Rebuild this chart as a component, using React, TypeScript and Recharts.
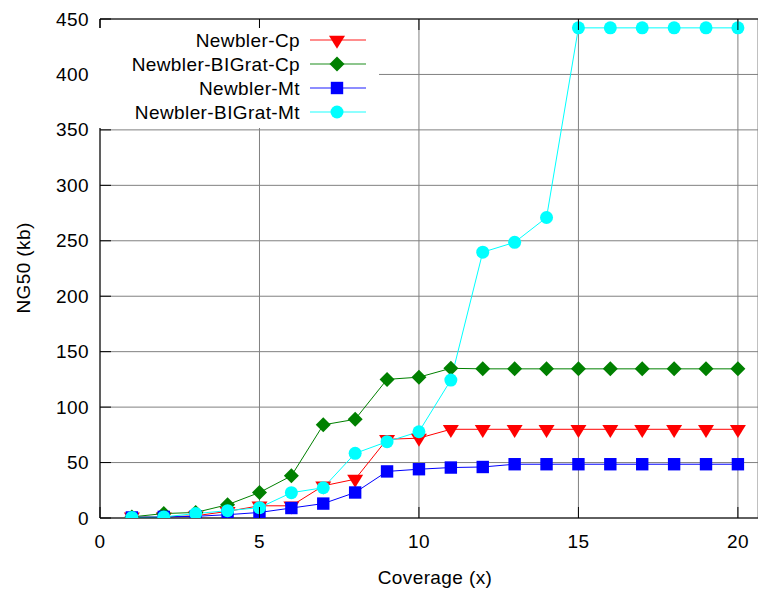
import React from 'react';
import { LineChart, Line, XAxis, YAxis, CartesianGrid, ReferenceLine, Legend, Label } from 'recharts';

const coverage = [1, 2, 3, 4, 5, 6, 7, 8, 9, 10, 11, 12, 13, 14, 15, 16, 17, 18, 19, 20];
const newblerCp = [1, 1, 2, 6, 11, 11, 29, 35, 71, 72, 80, 80, 80, 80, 80, 80, 80, 80, 80, 80];
const newblerBigratCp = [1, 4, 5, 12, 23, 38, 84, 89, 125, 127, 135, 134.5, 134.5, 134.5, 134.5, 134.5, 134.5, 134.5, 134.5, 134.5];
const newblerMt = [0.5, 1, 1.5, 3, 5, 9, 13, 23, 42, 44, 45.5, 46, 48.5, 48.5, 48.5, 48.5, 48.5, 48.5, 48.5, 48.5];
const newblerBigratMt = [0.5, 1, 4, 6.6, 9.3, 22.8, 27.3, 58.3, 68.8, 77.8, 124.4, 239.7, 248.6, 271, 442, 442, 442, 442, 442, 442];

const xTicks = [0, 5, 10, 15, 20];
const yTicks = [0, 50, 100, 150, 200, 250, 300, 350, 400, 450];

const seriesNames = ['Newbler-Cp', 'Newbler-BIGrat-Cp', 'Newbler-Mt', 'Newbler-BIGrat-Mt'];
const seriesKeys = ['cp', 'bcp', 'mt', 'bmt'];
const seriesColors = ['#ff0000', '#008000', '#0000ff', '#00ffff'];

const data = coverage.map((c, i) => ({
  x: c,
  cp: newblerCp[i],
  bcp: newblerBigratCp[i],
  mt: newblerMt[i],
  bmt: newblerBigratMt[i],
}));

const FONT = '"Liberation Sans", Arial, Helvetica, sans-serif';
const FS = 19;
const LS = 0.4;
const W = 758;
const H = 590;
const PLOT_LEFT = 100;
const PLOT_TOP = 19;
const PLOT_BOTTOM = 518;
const TICK = 11;

function Marker({ kind, cx, cy, color }: { kind: number; cx: number; cy: number; color: string }) {
  if (cx == null || cy == null || isNaN(cx) || isNaN(cy)) return null;
  if (kind === 0) {
    const s = 8, h = 13;
    const pts = `${cx - s},${cy - h / 3} ${cx + s},${cy - h / 3} ${cx},${cy + (2 * h) / 3}`;
    return <polygon points={pts} fill={color} />;
  }
  if (kind === 1) {
    const r = 7.5;
    const pts = `${cx},${cy - r} ${cx + r},${cy} ${cx},${cy + r} ${cx - r},${cy}`;
    return <polygon points={pts} fill={color} />;
  }
  if (kind === 2) {
    const s = 6.2;
    return <rect x={cx - s} y={cy - s} width={2 * s} height={2 * s} fill={color} />;
  }
  return <circle cx={cx} cy={cy} r={6.5} fill={color} />;
}

const YTick = (props: any) => {
  const { x, y, payload } = props;
  return (
    <g>
      <line x1={PLOT_LEFT} x2={PLOT_LEFT + TICK} y1={y} y2={y} stroke="#000" strokeWidth={1} />
      <text x={x} y={y} textAnchor="end" dominantBaseline="central" fontFamily={FONT} fontSize={FS} letterSpacing={LS} fill="#000">
        {payload.value}
      </text>
    </g>
  );
};

const XTick = (props: any) => {
  const { x, y, payload } = props;
  return (
    <g>
      <line x1={x} x2={x} y1={PLOT_BOTTOM} y2={PLOT_BOTTOM - TICK} stroke="#000" strokeWidth={1} />
      <line x1={x} x2={x} y1={PLOT_TOP} y2={PLOT_TOP + TICK} stroke="#000" strokeWidth={1} />
      <text x={x} y={y} textAnchor="middle" dominantBaseline="central" fontFamily={FONT} fontSize={FS} letterSpacing={LS} fill="#000">
        {payload.value}
      </text>
    </g>
  );
};

const LegendBox = () => {
  const rows = [42, 66, 90, 114];
  return (
    <svg width={280} height={100} style={{ display: 'block' }}>
      <rect x={0} y={0} width={280} height={100} fill="#fff" />
      {seriesNames.map((name, i) => {
        const cy = rows[i] - 30;
        return (
          <g key={name}>
            <text x={201} y={cy} textAnchor="end" dominantBaseline="central" fontFamily={FONT} fontSize={FS} letterSpacing={LS} fill="#000">
              {name}
            </text>
            <line x1={211} x2={267} y1={cy} y2={cy} stroke={seriesColors[i]} strokeWidth={1.6} strokeOpacity={0.6} />
            <Marker kind={i} cx={238} cy={cy} color={seriesColors[i]} />
          </g>
        );
      })}
    </svg>
  );
};

export default function App() {
  return (
    <div style={{ position: 'absolute', left: 0, top: 0, width: W, height: H, background: '#fff' }}>
      <LineChart width={W} height={H} data={data} margin={{ top: PLOT_TOP, right: 0, bottom: 0, left: 0 }}>
        <CartesianGrid stroke="#808080" strokeWidth={1} />
        <XAxis
          type="number"
          dataKey="x"
          domain={[0, 20.63]}
          ticks={xTicks}
          allowDataOverflow
          height={H - PLOT_BOTTOM}
          stroke="#000"
          tickSize={0}
          tickMargin={23}
          tick={<XTick />}
        >
          <Label
            content={() => (
              <text x={435} y={577} textAnchor="middle" dominantBaseline="central" fontFamily={FONT} fontSize={FS} letterSpacing={LS} fill="#000">
                Coverage (x)
              </text>
            )}
          />
        </XAxis>
        <YAxis
          type="number"
          domain={[0, 450]}
          ticks={yTicks}
          allowDataOverflow
          width={PLOT_LEFT}
          stroke="#000"
          tickSize={0}
          tickMargin={11}
          tick={<YTick />}
        >
          <Label
            content={() => (
              <text
                x={23.5}
                y={268}
                transform="rotate(-90 23.5 268)"
                textAnchor="middle"
                dominantBaseline="central"
                fontFamily={FONT}
                fontSize={FS}
                letterSpacing={LS}
                fill="#000"
              >
                NG50 (kb)
              </text>
            )}
          />
        </YAxis>
        <ReferenceLine y={450} stroke="#000" strokeWidth={1} />
        <Legend
          layout="vertical"
          align="center"
          verticalAlign="middle"
          wrapperStyle={{ position: 'absolute', left: 99, top: 28, width: 280, height: 100 }}
          content={() => <LegendBox />}
        />
        {seriesKeys.map((k, i) => (
          <Line
            key={k}
            type="linear"
            dataKey={k}
            name={seriesNames[i]}
            stroke={seriesColors[i]}
            strokeWidth={1}
            isAnimationActive={false}
            dot={(p: any) => <Marker key={`${k}-${p.index}`} kind={i} cx={p.cx} cy={p.cy} color={seriesColors[i]} />}
            activeDot={false}
          />
        ))}
      </LineChart>
    </div>
  );
}
